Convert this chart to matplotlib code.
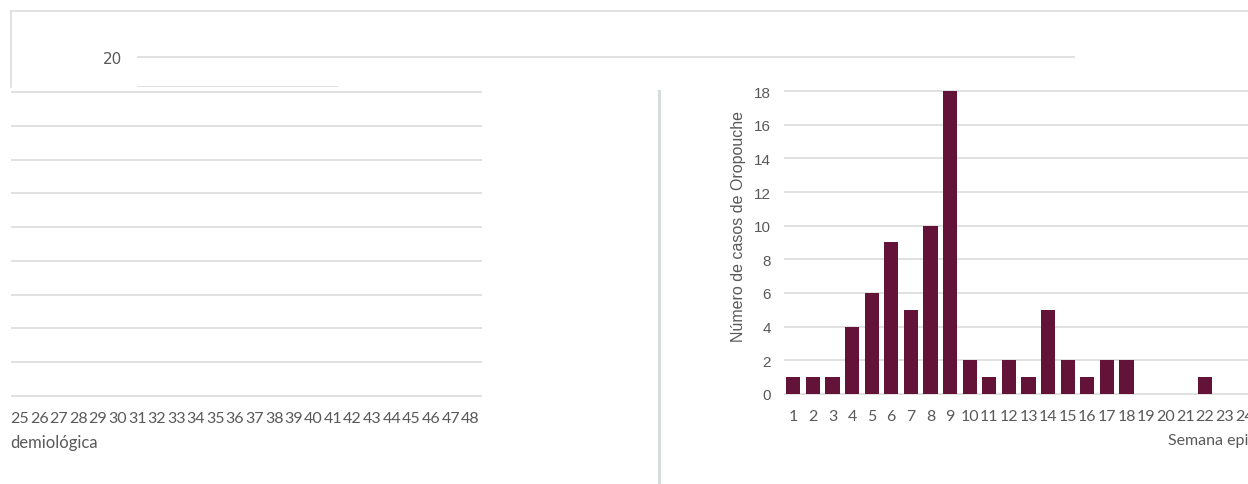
import matplotlib.pyplot as plt
from matplotlib.lines import Line2D
from matplotlib.transforms import Bbox, TransformedBbox

# weekly Oropouche cases (semana epidemiológica)
weeks_a = list(range(1, 25))
cases_a = [1, 1, 1, 4, 6, 9, 5, 10, 18, 2, 1, 2, 1, 5, 2, 1, 2, 2, 0, 0, 0, 1, 0, 0]
weeks_b = list(range(25, 49))
cases_b = [0] * 24
y_ticks = list(range(0, 19, 2))
top_ticks = [15, 20]

y_label = "Número de casos de Oropouche"
x_label = "Semana epidemiológica"
x_label_tail = "demiológica"  # wrapped part of the x label shown on the left

W, H = 1248, 485
BAR = "#621337"
GRID = "#d9d9d9"
TXT = "#595959"


def px_box(x0, y0, x1, y1):
    # pixel box (top-left origin) -> figure fraction rect
    return [x0 / W, 1 - y1 / H, (x1 - x0) / W, (y1 - y0) / H]


def style_panel(ax):
    for s in ax.spines.values():
        s.set_visible(False)
    ax.set_yticks(y_ticks)
    ax.yaxis.grid(True, color=GRID, linewidth=1.1)
    ax.set_axisbelow(True)
    ax.tick_params(length=0, colors=TXT)
    ax.tick_params(axis="x", pad=8, labelsize=11.5)
    for t in ax.get_xticklabels():
        t.set_fontfamily("Lato")


fig = plt.figure(figsize=(W / 100, H / 100), dpi=100)

# right panel: weeks 1-24
ax1 = fig.add_axes(px_box(783.5, 88, 1248, 399), zorder=1)
ax1.bar(weeks_a, cases_a, width=0.72, color=BAR)
ax1.set_xlim(0.5, 0.5 + (1248 - 783.5) / 19.6)
ax1.set_ylim(-4 / 16.83, 18 + 4 / 16.83)
ax1.set_xticks(weeks_a)
style_panel(ax1)
ax1.tick_params(axis="y", pad=9, labelsize=11)
for t in ax1.get_yticklabels():
    t.set_fontfamily("Liberation Sans")

# left panel: weeks 25-48 (continuation)
ax2 = fig.add_axes(px_box(11, 88, 482, 401), zorder=1)
ax2.bar(weeks_b, cases_b, width=0.72, color=BAR)
ax2.set_xlim(24.566, 48.6)
ax2.set_ylim(-4 / 16.89, 18 + 5 / 16.89)
ax2.set_xticks(weeks_b)
style_panel(ax2)
ax2.tick_params(axis="y", labelleft=False)

fig.text(738 / W, 1 - 227 / H, y_label, rotation=90, ha="center", va="center",
         color=TXT, fontsize=11.5, family="Liberation Sans")
fig.text(1168 / W, 1 - 441 / H, x_label, ha="left", va="center",
         color=TXT, fontsize=11.5, family="Lato")
fig.text(10 / W, 1 - 443 / H, x_label_tail, ha="left", va="center",
         color=TXT, fontsize=12, family="Lato")

# divider between the two panels
fig.add_artist(Line2D([658.5 / W, 658.5 / W], [1 - 92 / H, 0], color="#d6dcdc",
                      linewidth=2.2, transform=fig.transFigure))

# top band: frame of the chart above
band = fig.add_axes(px_box(11, 12, 1270, 88), zorder=3)
band.set_facecolor("white")
band.set_xticks([])
band.set_yticks([])
for side in ["bottom", "right"]:
    band.spines[side].set_visible(False)
for side in ["top", "left"]:
    band.spines[side].set_color(GRID)
    band.spines[side].set_linewidth(1.1)

top = fig.add_axes(px_box(137, 20, 1075, 88), zorder=4)
top.patch.set_alpha(0)
for s in top.spines.values():
    s.set_visible(False)
top.set_xticks([])
top.set_ylim(15 - 0.5 / 5.9, 20 + 38 / 5.9)
top.set_yticks([top_ticks[1]])
top.yaxis.grid(True, color=GRID, linewidth=1.1)
top.tick_params(length=0, pad=11, labelsize=11, colors=TXT)
top.hlines(top_ticks[0], 0, 0.214, transform=top.get_yaxis_transform(),
           color=GRID, linewidth=1.1)
clip = TransformedBbox(Bbox([[0, 1 - 88 / H], [1, 1]]), fig.transFigure)
frag = fig.text(113 / W, 1 - 95 / H, str(top_ticks[0]), ha="center", va="center",
                color=TXT, fontsize=11, zorder=5)
frag.set_clip_box(clip)
frag.set_clip_on(True)

fig.savefig("out.png", dpi=100)
